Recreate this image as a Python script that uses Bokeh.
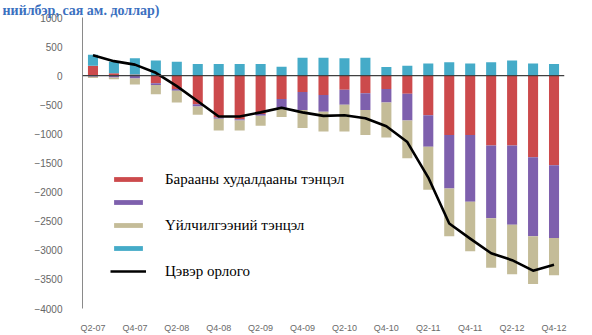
from bokeh.plotting import figure
from bokeh.models import ColumnDataSource, FixedTicker, Span, Legend, LegendItem
from bokeh.embed import file_html
from bokeh.resources import INLINE

quarters = ["Q2-07", "Q3-07", "Q4-07", "Q1-08", "Q2-08", "Q3-08", "Q4-08", "Q1-09",
            "Q2-09", "Q3-09", "Q4-09", "Q1-10", "Q2-10", "Q3-10", "Q4-10", "Q1-11",
            "Q2-11", "Q3-11", "Q4-11", "Q1-12", "Q2-12", "Q3-12", "Q4-12"]
trade = [170, 40, 20, -130, -230, -490, -720, -750, -660, -400, -280, -330, -240, -300,
         -230, -310, -680, -1020, -1020, -1200, -1200, -1400, -1540]
income = [-20, -30, -50, -30, -30, -40, -20, -20, -30, -170, -310, -290, -260, -290,
          -230, -460, -540, -920, -1145, -1250, -1360, -1360, -1250]
services = [-20, -30, -100, -160, -200, -140, -200, -170, -170, -140, -310, -340, -460,
            -430, -600, -650, -740, -820, -850, -850, -850, -820, -640]
transfers = [190, 200, 280, 260, 240, 200, 200, 200, 200, 155, 310, 310, 300, 310,
             150, 170, 210, 230, 210, 230, 260, 210, 200]
net = [350, 250, 190, 50, -180, -440, -700, -700, -630, -550, -630, -690, -680, -730,
       -870, -1140, -1750, -2540, -2800, -3050, -3170, -3350, -3250]

legend_labels = ["Барааны худалдааны тэнцэл", " ", "Үйлчилгээний тэнцэл", " ", "Цэвэр орлого"]
title_text = "нийлбэр, сая ам. доллар)"

series = [(trade, "#CC4A4C"), (income, "#7E60AD"), (services, "#C4BC98"), (transfers, "#45ABC8")]

n = len(quarters)
xs = list(range(n))

p = figure(width=592, height=335, output_backend="svg", toolbar_location=None,
           x_range=(-0.5, n - 0.5), y_range=(-4000, 1000),
           min_border_left=82, min_border_right=28, min_border_top=17, min_border_bottom=23)
p.outline_line_color = None
p.xgrid.visible = False
p.ygrid.visible = False
p.background_fill_color = "white"

p.title.text = title_text
p.title.align = "left"
p.title.offset = -80
p.title.standoff = 0
p.title.text_font = "Liberation Serif"
p.title.text_font_style = "bold"
p.title.text_font_size = "14px"
p.title.text_color = "#3B70C0"

pos = [0.0] * n
neg = [0.0] * n
bar_renderers = []
for vals, color in series:
    tops, bottoms = [], []
    for i, v in enumerate(vals):
        if v >= 0:
            bottoms.append(pos[i]); tops.append(pos[i] + v); pos[i] += v
        else:
            tops.append(neg[i]); bottoms.append(neg[i] + v); neg[i] += v
    src = ColumnDataSource(dict(x=xs, top=tops, bottom=bottoms))
    r = p.vbar(x="x", top="top", bottom="bottom", width=0.48, source=src,
               fill_color=color, line_color=None)
    bar_renderers.append(r)

p.add_layout(Span(location=0, dimension="width", line_color="#404040", line_width=1.3))

line_r = p.line(xs, net, line_color="black", line_width=2.6, line_join="round")

# axes
p.yaxis.ticker = FixedTicker(ticks=list(range(-4000, 1001, 500)))
p.yaxis.axis_line_color = "#8a8a8a"
p.yaxis.major_tick_line_color = None
p.yaxis.minor_tick_line_color = None
p.yaxis.major_label_standoff = 14
p.yaxis.major_label_text_font = "Liberation Sans"
p.yaxis.major_label_text_font_size = "10px"
p.yaxis.major_label_text_color = "#666666"

p.xaxis.ticker = FixedTicker(ticks=xs[::2])
p.xaxis.major_label_overrides = {i: quarters[i] for i in xs[::2]}
p.xaxis.axis_line_color = None
p.xaxis.major_tick_line_color = None
p.xaxis.minor_tick_line_color = None
p.xaxis.major_label_standoff = 8
p.xaxis.major_label_text_font = "Liberation Sans"
p.xaxis.major_label_text_font_size = "9px"
p.xaxis.major_label_text_color = "#6a6a6a"

items = [LegendItem(label=legend_labels[k], renderers=[r]) for k, r in enumerate(bar_renderers)]
items.append(LegendItem(label=legend_labels[4], renderers=[line_r]))
legend = Legend(items=items, location=(28, 28), orientation="vertical",
                padding=0, margin=0, border_line_color=None, background_fill_alpha=0,
                glyph_width=36, glyph_height=6, label_height=18, spacing=5,
                label_standoff=19, label_text_font="Liberation Serif",
                label_text_font_size="15px", label_text_color="black")
p.add_layout(legend)

open("out.html", "w").write(file_html(p, INLINE))
